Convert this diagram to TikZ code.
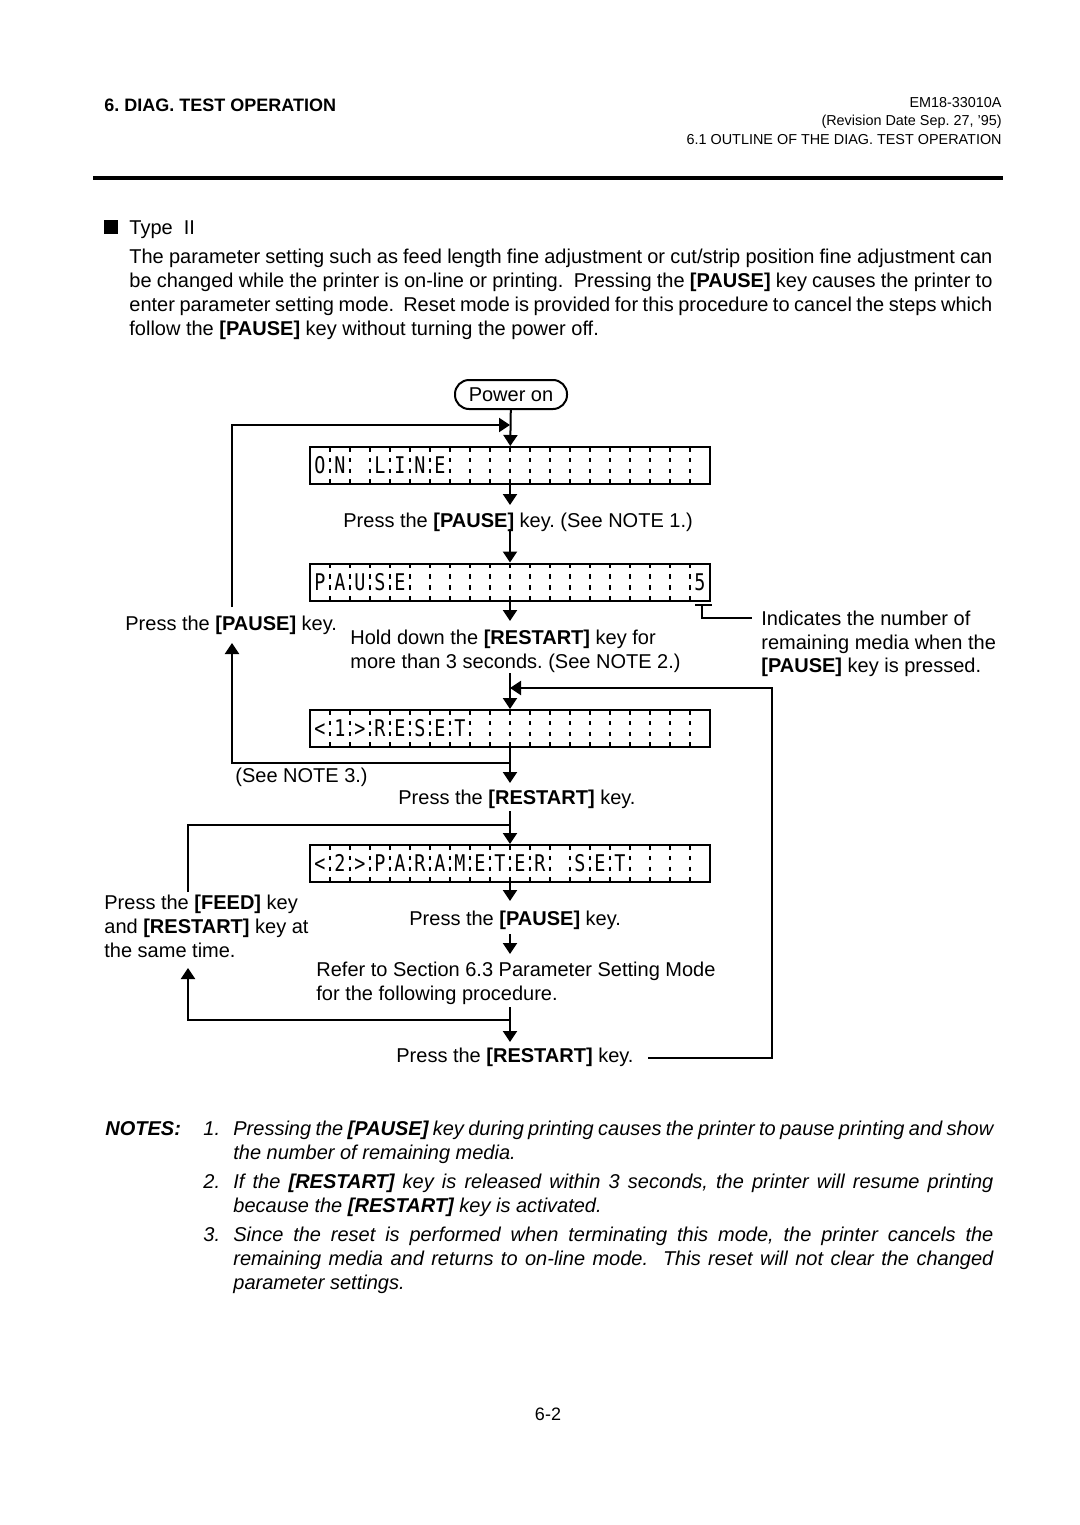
\documentclass[tikz,border=0pt]{standalone}
\usepackage{fontspec}
\setmainfont{Liberation Sans}
\newfontfamily\lcdfont[FakeStretch=0.8]{DejaVu Sans Mono}
\usetikzlibrary{arrows.meta}
\frenchspacing

\begin{document}
\begin{tikzpicture}[x=0.5pt,y=-0.5pt,
  txt/.style={anchor=base west, inner sep=0pt, font=\fontsize{10}{12}\selectfont},
  hdr/.style={anchor=base east, inner sep=0pt, font=\fontsize{7.2}{8.6}\selectfont},
  note/.style={anchor=base west, inner sep=0pt, font=\fontsize{10}{12}\selectfont\itshape},
  lcd/.style={draw, line width=1pt, minimum width=200pt, minimum height=18.5pt, inner sep=0pt},
  lcdchar/.style={anchor=base, inner sep=0pt, font=\lcdfont\fontsize{11.5}{11.5}\selectfont},
  divider/.style={line width=0.7pt, dash pattern=on 2.25pt off 3.15pt},
  flow/.style={line width=1pt, -{Triangle[length=5.5pt,width=7pt]}},
  wire/.style={line width=1pt}]
\useasboundingbox (0,0) rectangle (1080,1525);

% page header
\node [anchor=base west, inner sep=0pt, font=\fontsize{9}{11}\selectfont\bfseries] (chap) at (104,112) {6. DIAG. TEST OPERATION};
\node [hdr] (docno) at (1002,108) {EM18-33010A};
\node [hdr] (revdate) at (1002,126) {(Revision Date Sep. 27, '95)};
\node [hdr] (section) at (1002,144) {6.1 OUTLINE OF THE DIAG. TEST OPERATION};
\draw [line width=2.2pt] (93,178) -- (1003,178);

% intro text
\fill (104,220) rectangle (118,234);
\node [txt] (type) at (129,234) {Type\ \ II};
\node [txt] (par1) at (129,263) {\makebox[431.5pt][s]{The parameter setting such as feed length fine adjustment or cut/strip position fine adjustment can}};
\node [txt] (par2) at (129,287) {\makebox[431.5pt][s]{be changed while the printer is on-line or printing.\ \ Pressing the \textbf{[PAUSE]} key causes the printer to}};
\node [txt] (par3) at (129,311) {\makebox[431.5pt][s]{enter parameter setting mode.\ \ Reset mode is provided for this procedure to cancel the steps which}};
\node [txt] (par4) at (129,335) {follow the \textbf{[PAUSE]} key without turning the power off.};

% start
\node [draw, line width=1pt, rounded corners=7pt, minimum width=56pt, minimum height=14.5pt, inner sep=0pt, font=\fontsize{10}{12}\selectfont] (power) at (511,394.5) {Power on};

% display boxes
\foreach \nm/\yy in {online/465.5, pause/582, reset/728.5, param/863.5} {
  \node [lcd] (\nm) at (510,\yy) {};
  \foreach \k in {1,...,19}
    \draw [divider] (310+20*\k,\yy-18.5) -- (310+20*\k,\yy+18.5);
}
\foreach \c [count=\i] in {O,N,{},L,I,N,E}
  \node [lcdchar] at (300+20*\i,473.5) {\c};
\foreach \c [count=\i] in {P,A,U,S,E}
  \node [lcdchar] at (300+20*\i,590) {\c};
\node [lcdchar] (count) at (700,590) {5};
\foreach \c [count=\i] in {<,1,>,R,E,S,E,T}
  \node [lcdchar] at (300+20*\i,736.5) {\c};
\foreach \c [count=\i] in {<,2,>,P,A,R,A,M,E,T,E,R,{},S,E,T}
  \node [lcdchar] at (300+20*\i,871.5) {\c};

% step texts
\node [txt] (t1) at (343,527) {Press the \textbf{[PAUSE]} key. (See NOTE 1.)};
\node [txt] (t2a) at (350,644) {Hold down the \textbf{[RESTART]} key for};
\node [txt] (t2b) at (350,668) {more than 3 seconds. (See NOTE 2.)};
\node [txt] (t3) at (398,804) {Press the \textbf{[RESTART]} key.};
\node [txt] (t4) at (409,925) {Press the \textbf{[PAUSE]} key.};
\node [txt] (t5a) at (316,976) {Refer to Section 6.3 Parameter Setting Mode};
\node [txt] (t5b) at (316,1000) {for the following procedure.};
\node [txt] (t6) at (396,1062) {Press the \textbf{[RESTART]} key.};
\node [txt] (tl1) at (125,630) {Press the \textbf{[PAUSE]} key.};
\node [txt] (tl2) at (235,782) {(See NOTE 3.)};
\node [txt] (tl3a) at (104,909) {Press the \textbf{[FEED]} key};
\node [txt] (tl3b) at (104,933) {and \textbf{[RESTART]} key at};
\node [txt] (tl3c) at (104,957) {the same time.};
\node [txt] (tr1) at (761,625) {Indicates the number of};
\node [txt] (tr2) at (761,649) {remaining media when the};
\node [txt] (tr3) at (761,672) {\textbf{[PAUSE]} key is pressed.};

% connector ends
\coordinate (c1) at (510,505);
\coordinate (c2) at (510,529);
\coordinate (c3) at (510,621);
\coordinate (c4) at (510,673);
\coordinate (c5) at (510,783);
\coordinate (c6) at (510,811);
\coordinate (c7) at (510,901);
\coordinate (c8) at (510,934);
\coordinate (c9) at (510,954);
\coordinate (c10) at (510,1007);
\coordinate (c11) at (510,1042);
\coordinate (j1) at (510,425);
\coordinate (j2) at (510,688);
\coordinate (j3) at (510,763);
\coordinate (j4) at (510,825);
\coordinate (j5) at (510,1020);
\coordinate (l1) at (232,607);
\coordinate (l2) at (232,425);
\coordinate (l3) at (232,763);
\coordinate (l4) at (232,643);
\coordinate (l5) at (188,892);
\coordinate (l6) at (188,825);
\coordinate (l7) at (188,1020);
\coordinate (l8) at (188,968);
\coordinate (r1) at (648,1058);
\coordinate (r2) at (772,1058);
\coordinate (r3) at (772,688);
\coordinate (b1) at (695,605);
\coordinate (b2) at (712,605);
\coordinate (b3) at (702,605);
\coordinate (b4) at (702,618);
\coordinate (b5) at (752,618);

% main flow
\draw [flow] (power) -- (online);
\draw [flow] (online) -- (c1);
\draw [flow] (c2) -- (pause);
\draw [flow] (pause) -- (c3);
\draw [flow] (c4) -- (reset);
\draw [flow] (reset) -- (c5);
\draw [flow] (c6) -- (param);
\draw [flow] (param) -- (c7);
\draw [flow] (c8) -- (c9);
\draw [flow] (c10) -- (c11);

% loops
\draw [flow] (l1) -- (l2) -- (j1);
\draw [flow] (j3) -- (l3) -- (l4);
\draw [wire] (l5) -- (l6) -- (j4);
\draw [flow] (j5) -- (l7) -- (l8);
\draw [flow] (r1) -- (r2) -- (r3) -- (j2);

% count marker
\draw [wire] (b1) -- (b2);
\draw [wire] (b3) -- (b4) -- (b5);

% notes
\node [anchor=base west, inner sep=0pt, font=\fontsize{10}{12}\selectfont\bfseries\itshape] (notes) at (105,1135) {NOTES:};
\node [note] (n1) at (203,1135) {1.};
\node [note] (n1a) at (233,1135) {\makebox[380pt][s]{Pressing the \textbf{[PAUSE]} key during printing causes the printer to pause printing and show}};
\node [note] (n1b) at (233,1159) {the number of remaining media.};
\node [note] (n2) at (203,1188) {2.};
\node [note] (n2a) at (233,1188) {\makebox[380pt][s]{If the \textbf{[RESTART]} key is released within 3 seconds, the printer will resume printing}};
\node [note] (n2b) at (233,1212) {because the \textbf{[RESTART]} key is activated.};
\node [note] (n3) at (203,1241) {3.};
\node [note] (n3a) at (233,1241) {\makebox[380pt][s]{Since the reset is performed when terminating this mode, the printer cancels the}};
\node [note] (n3b) at (233,1265) {\makebox[380pt][s]{remaining media and returns to on-line mode.\ \ This reset will not clear the changed}};
\node [note] (n3c) at (233,1289) {parameter settings.};

% page number
\node [anchor=base, inner sep=0pt, font=\fontsize{9}{11}\selectfont] (page) at (548,1420) {6-2};
\end{tikzpicture}
\end{document}
